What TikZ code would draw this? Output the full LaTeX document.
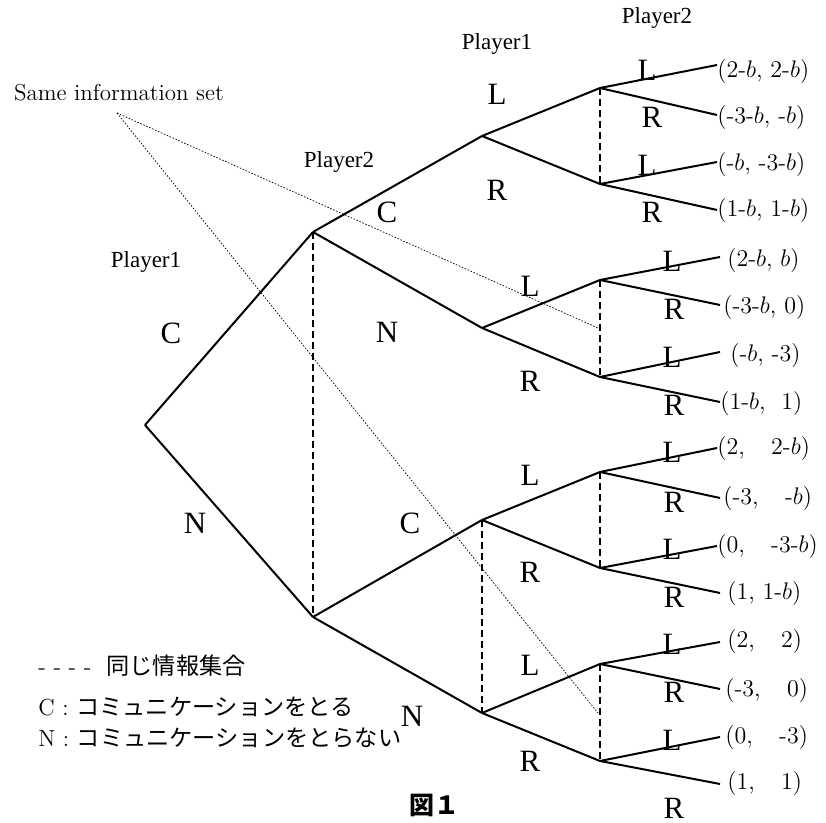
\documentclass[tikz,border=0pt]{standalone}
\usepackage{fontspec}
\newfontfamily\cjk{Noto Sans CJK JP}
\newfontfamily\tms{Liberation Serif}
\newcommand\gapw{\hspace{1.1em}}
\tikzset{
  edge/.style={line width=1pt},
  infoset/.style={line width=0.8pt, dash pattern=on 3.5pt off 2pt},
  pointer/.style={line width=0.35pt, dash pattern=on 0.8pt off 0.8pt},
  player/.style={font=\tms\fontsize{11.5}{13}\selectfont, inner sep=0},
  act/.style={font=\tms\fontsize{15.5}{17}\selectfont, inner sep=0},
  pay/.style={font=\fontsize{12}{14}\selectfont, inner sep=0, anchor=west},
  legend/.style={font=\fontsize{11.6}{14}\selectfont, inner sep=0, anchor=west},
}
\begin{document}
\begin{tikzpicture}[x=0.5pt, y=-0.5pt]
\useasboundingbox (0,0) rectangle (826,823);

% decision nodes
\coordinate (r) at (145,425);
\coordinate (a) at (313,232);
\coordinate (b) at (313,617);
\coordinate (a1) at (482,136);
\coordinate (a2) at (482,328);
\coordinate (b1) at (482,520);
\coordinate (b2) at (482,713);
\coordinate (a1L) at (600,88);
\coordinate (a1R) at (600,184);
\coordinate (a2L) at (600,280);
\coordinate (a2R) at (600,377);
\coordinate (b1L) at (600,472);
\coordinate (b1R) at (600,568);
\coordinate (b2L) at (600,664);
\coordinate (b2R) at (600,761);

% terminal points
\coordinate (t1) at (717,65);   \coordinate (t2) at (717,115);
\coordinate (t3) at (717,162);  \coordinate (t4) at (717,210);
\coordinate (t5) at (720,257);  \coordinate (t6) at (720,305);
\coordinate (t7) at (720,352);  \coordinate (t8) at (720,402);
\coordinate (t9) at (717,448);  \coordinate (t10) at (720,498);
\coordinate (t11) at (717,546); \coordinate (t12) at (720,593);
\coordinate (t13) at (720,642); \coordinate (t14) at (720,689);
\coordinate (t15) at (720,737); \coordinate (t16) at (720,784);

% pointer from the note to two information sets
\node[font=\fontsize{11.5}{13}\selectfont, inner sep=0] (note) at (119,93) {Same information set};
\coordinate (np) at (117,113);
\coordinate (q1) at (598,328);
\coordinate (q2) at (598,713);
\draw[pointer] (np) -- (q1);
\draw[pointer] (np) -- (q2);

% tree edges
\draw[edge] (r) -- (a);
\draw[edge] (r) -- (b);
\draw[edge] (a) -- (a1);
\draw[edge] (a) -- (a2);
\draw[edge] (b) -- (b1);
\draw[edge] (b) -- (b2);
\draw[edge] (a1) -- (a1L);
\draw[edge] (a1) -- (a1R);
\draw[edge] (a2) -- (a2L);
\draw[edge] (a2) -- (a2R);
\draw[edge] (b1) -- (b1L);
\draw[edge] (b1) -- (b1R);
\draw[edge] (b2) -- (b2L);
\draw[edge] (b2) -- (b2R);
\draw[edge] (a1L) -- (t1);  \draw[edge] (a1L) -- (t2);
\draw[edge] (a1R) -- (t3);  \draw[edge] (a1R) -- (t4);
\draw[edge] (a2L) -- (t5);  \draw[edge] (a2L) -- (t6);
\draw[edge] (a2R) -- (t7);  \draw[edge] (a2R) -- (t8);
\draw[edge] (b1L) -- (t9);  \draw[edge] (b1L) -- (t10);
\draw[edge] (b1R) -- (t11); \draw[edge] (b1R) -- (t12);
\draw[edge] (b2L) -- (t13); \draw[edge] (b2L) -- (t14);
\draw[edge] (b2R) -- (t15); \draw[edge] (b2R) -- (t16);

% information sets
\draw[infoset] (a) -- (b);
\draw[infoset] (b1) -- (b2);
\draw[infoset] (a1L) -- (a1R);
\draw[infoset] (a2L) -- (a2R);
\draw[infoset] (b1L) -- (b1R);
\draw[infoset] (b2L) -- (b2R);

% players
\node[player] (p1a) at (146,262) {Player1};
\node[player] (p2a) at (339,162) {Player2};
\node[player] (p1b) at (497,44) {Player1};
\node[player] (p2b) at (657,18) {Player2};

% actions
\node[act] (c0) at (171,333) {C};
\node[act] (n0) at (195,523) {N};
\node[act] (c1) at (387,212) {C};
\node[act] (n1) at (387,332) {N};
\node[act] (c2) at (410,523) {C};
\node[act] (n2) at (412,716) {N};

\node[act] (l1) at (497,94) {L};
\node[act] (r1) at (497,190) {R};
\node[act] (l2) at (530,286) {L};
\node[act] (r2) at (530,381) {R};
\node[act] (l3) at (530,475) {L};
\node[act] (r3) at (530,572) {R};
\node[act] (l4) at (530,665) {L};
\node[act] (r4) at (530,761) {R};

\node[act] (ll1) at (647,70) {L};   \node[act] (rr1) at (652,117) {R};
\node[act] (ll2) at (647,165) {L};  \node[act] (rr2) at (652,212) {R};
\node[act] (ll3) at (672,261) {L};  \node[act] (rr3) at (674,309) {R};
\node[act] (ll4) at (672,357) {L};  \node[act] (rr4) at (674,405) {R};
\node[act] (ll5) at (672,452) {L};  \node[act] (rr5) at (674,502) {R};
\node[act] (ll6) at (672,549) {L};  \node[act] (rr6) at (674,597) {R};
\node[act] (ll7) at (672,644) {L};  \node[act] (rr7) at (674,692) {R};
\node[act] (ll8) at (672,740) {L};  \node[act] (rr8) at (674,808) {R};

% payoffs
\node[pay] (u1)  at (717,72)  {(2-$b$, 2-$b$)};
\node[pay] (u2)  at (717,118) {(-3-$b$, -$b$)};
\node[pay] (u3)  at (717,165) {(-$b$, -3-$b$)};
\node[pay] (u4)  at (717,211) {(1-$b$, 1-$b$)};
\node[pay] (u5)  at (727,261) {(2-$b$, $b$)};
\node[pay] (u6)  at (723,308) {(-3-$b$, 0)};
\node[pay] (u7)  at (730,356) {(-$b$, -3)};
\node[pay] (u8)  at (720,404) {(1-$b$,\ \ 1)};
\node[pay] (u9)  at (717,449) {(2,\gapw 2-$b$)};
\node[pay] (u10) at (723,499) {(-3,\gapw -$b$)};
\node[pay] (u11) at (717,547) {(0,\gapw -3-$b$)};
\node[pay] (u12) at (727,594) {(1, 1-$b$)};
\node[pay] (u13) at (727,642) {(2,\gapw 2)};
\node[pay] (u14) at (725,691) {(-3,\gapw 0)};
\node[pay] (u15) at (725,738) {(0,\gapw -3)};
\node[pay] (u16) at (727,784) {(1,\gapw 1)};

% legend
\node[legend] (k1) at (38,666) {- - - - \ {\cjk 同じ情報集合}};
\node[legend] (k2) at (38,707) {C : {\cjk コミュニケーションをとる}};
\node[legend] (k3) at (38,738) {N : {\cjk コミュニケーションをとらない}};

% caption
\node[font=\cjk\bfseries\fontsize{12.5}{14}\selectfont, inner sep=0] (cap) at (434,805) {図１};
\end{tikzpicture}
\end{document}
